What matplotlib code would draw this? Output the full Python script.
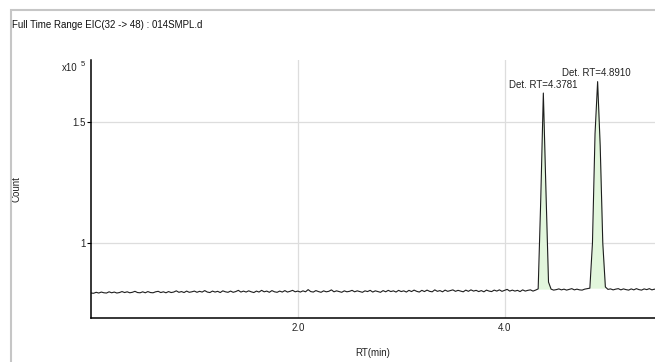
import numpy as np
import matplotlib
matplotlib.use("Agg")
import matplotlib.pyplot as plt

plt.rcParams['font.family'] = ['Liberation Sans', 'DejaVu Sans']

# Datos (Count en unidades de 10^5), muestreo cada 0.025 min
t_step = 0.025
counts = [
    0.795, 0.794, 0.798, 0.795, 0.799, 0.796, 0.795, 0.800, 0.796, 0.799, 0.795, 0.797, 0.801, 0.797, 0.800, 0.796, 0.798, 0.802, 0.797, 0.796,
    0.800, 0.796, 0.801, 0.797, 0.796, 0.800, 0.802, 0.797, 0.800, 0.796, 0.801, 0.797, 0.799, 0.804, 0.798, 0.801, 0.797, 0.803, 0.798, 0.800,
    0.803, 0.798, 0.802, 0.799, 0.805, 0.799, 0.797, 0.803, 0.799, 0.802, 0.797, 0.804, 0.800, 0.798, 0.803, 0.798, 0.801, 0.806, 0.799, 0.803,
    0.799, 0.804, 0.800, 0.797, 0.803, 0.799, 0.806, 0.800, 0.803, 0.798, 0.805, 0.800, 0.798, 0.803, 0.799, 0.805, 0.799, 0.802, 0.806, 0.800,
    0.803, 0.799, 0.804, 0.800, 0.809, 0.801, 0.799, 0.805, 0.801, 0.798, 0.804, 0.800, 0.802, 0.808, 0.800, 0.804, 0.801, 0.798, 0.804, 0.800,
    0.802, 0.806, 0.800, 0.804, 0.801, 0.798, 0.804, 0.801, 0.806, 0.799, 0.804, 0.801, 0.798, 0.805, 0.800, 0.806, 0.801, 0.804, 0.799, 0.806,
    0.801, 0.804, 0.799, 0.806, 0.801, 0.807, 0.802, 0.799, 0.806, 0.801, 0.807, 0.802, 0.800, 0.808, 0.802, 0.805, 0.800, 0.807, 0.802, 0.805,
    0.808, 0.802, 0.806, 0.803, 0.800, 0.807, 0.802, 0.808, 0.803, 0.806, 0.801, 0.805, 0.800, 0.807, 0.803, 0.801, 0.807, 0.803, 0.808, 0.802,
    0.806, 0.810, 0.803, 0.807, 0.803, 0.806, 0.801, 0.808, 0.803, 0.806, 0.808, 0.803, 0.807, 0.812, 1.180, 1.618, 1.220, 0.840, 0.811, 0.807,
    0.809, 0.812, 0.808, 0.811, 0.807, 0.810, 0.813, 0.808, 0.811, 0.808, 0.807, 0.811, 0.813, 0.815, 1.000, 1.450, 1.665, 1.400, 1.000, 0.820,
    0.810, 0.812, 0.808, 0.811, 0.813, 0.808, 0.812, 0.809, 0.807, 0.812, 0.808, 0.813, 0.809, 0.807, 0.812, 0.809, 0.813, 0.808, 0.811, 0.809,
]
rt = np.arange(len(counts)) * t_step
counts = np.array(counts)

peak_start = [4.325, 4.825]
peak_end = [4.45, 4.975]
peak_rt = [4.3781, 4.8910]
peak_labels = ["Det. RT=4.3781", "Det. RT=4.8910"]

# Figura
fig = plt.figure(figsize=(6.55, 3.62), dpi=100)
W, H = 655, 362
ax = fig.add_axes([91 / W, (H - 318.3) / H, 564 / W, (318.3 - 60) / H])

# marco gris del panel
fig.add_artist(plt.Rectangle((10.5 / W, -0.2), 1.2, (H - 10.5) / H + 0.2,
                             transform=fig.transFigure, fill=False,
                             edgecolor="#c6c6c6", linewidth=1.5, clip_on=False))

# Areas integradas
for a, b in zip(peak_start, peak_end):
    sel = (rt >= a - 1e-9) & (rt <= b + 1e-9)
    base = min(counts[sel][0], counts[sel][-1])
    ax.fill_between(rt[sel], counts[sel], base, color="#e2f6dc", linewidth=0)

ax.plot(rt, counts, color="#1e1e1e", linewidth=0.8)

for x, lab in zip(peak_rt, peak_labels):
    ytop = counts[np.argmin(np.abs(rt - x))]
    ax.annotate(lab, (x, ytop), xytext=(0, 6), textcoords="offset points",
                ha="center", va="center", fontsize=7, color="#222222")

ax.set_xlim(0, 5.455)
ax.set_ylim(0.691, 1.754)
ax.set_xticks([2.0, 4.0])
ax.set_xticklabels(["2.0", "4.0"])
ax.set_yticks([1.0, 1.5])
ax.set_yticklabels(["1", "1.5"])
ax.tick_params(axis="x", length=0, pad=3.5, labelsize=7, labelcolor="#222222")
ax.tick_params(axis="y", length=3, width=0.8, pad=0.5, labelsize=7, labelcolor="#222222")
ax.grid(color="#dddddd", linewidth=0.9)
ax.set_axisbelow(True)

for s in ["top", "right"]:
    ax.spines[s].set_visible(False)
for s in ["left", "bottom"]:
    ax.spines[s].set_linewidth(1.1)

ax.set_xlabel("RT(min)", fontsize=7, color="#222222")
ax.xaxis.set_label_coords(0.5, -0.115)
ax.set_ylabel("Count", fontsize=7, color="#222222")
ax.yaxis.set_label_coords((22 - 91) / 564, 0.5)

fig.text(12 / W, (H - 25) / H, "Full Time Range EIC(32 -> 48) : 014SMPL.d",
         fontsize=7, color="#111111", va="center", ha="left")
fig.text(62 / W, (H - 68) / H, "x10", fontsize=7, color="#222222", va="center")
fig.text(81 / W, (H - 65) / H, "5", fontsize=5.5, color="#222222", va="center")

fig.savefig("out.png", dpi=100)
